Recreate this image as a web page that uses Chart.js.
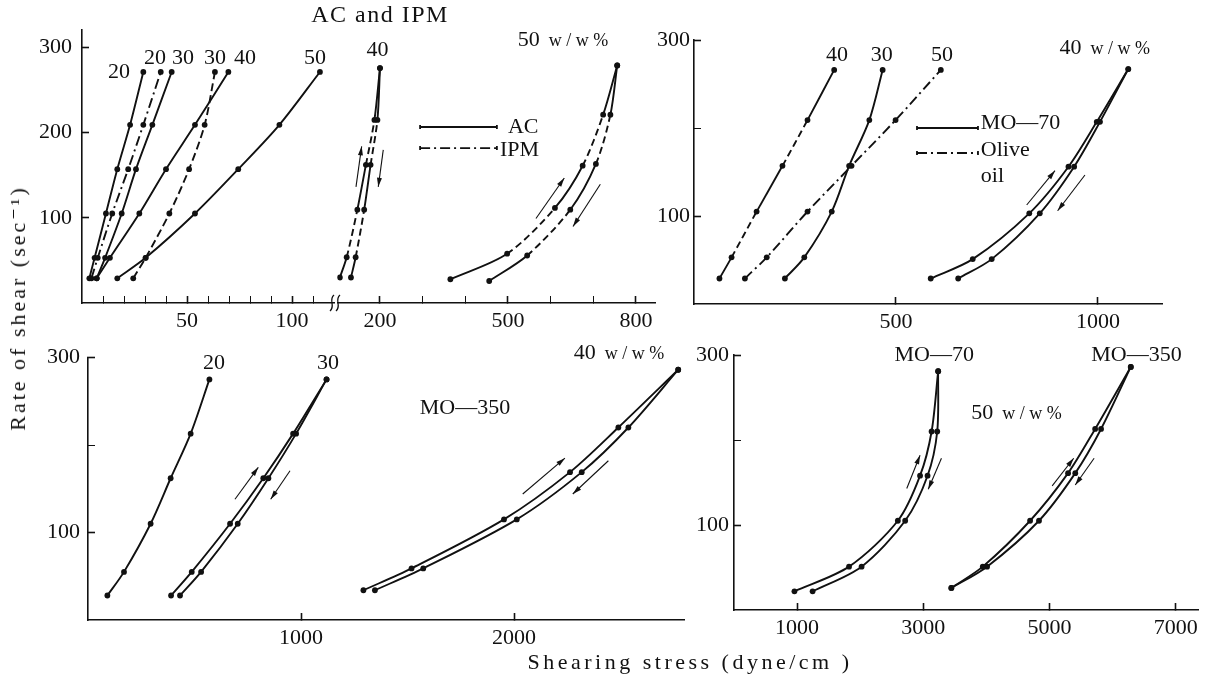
<!DOCTYPE html>
<html>
<head>
<meta charset="utf-8">
<script src="https://cdn.jsdelivr.net/npm/chart.js@4/dist/chart.umd.min.js"></script>
<style>
body { margin: 0; background: #fff; width: 1210px; height: 676px; position: relative; overflow: hidden;
       font-family: "Liberation Serif", "DejaVu Serif", serif; color: #111; }
canvas { position: absolute; left: 0; top: 0; }
.t { position: absolute; white-space: nowrap; font-size: 22px; transform: translate(-50%, -50%); }
</style>
</head>
<body>
<canvas id="tl1" width="1210" height="676"></canvas>
<canvas id="tl2" width="1210" height="676"></canvas>
<canvas id="tr" width="1210" height="676"></canvas>
<canvas id="bl" width="1210" height="676"></canvas>
<canvas id="br" width="1210" height="676"></canvas>
<div class="t" style="left:380px;top:14px;font-size:24px;letter-spacing:1.5px">AC and IPM</div>
<div class="t" style="left:690px;top:662px;letter-spacing:3.5px">Shearing stress (dyne/cm )</div>
<div class="t" style="left:18px;top:308px;letter-spacing:3px;transform:translate(-50%,-50%) rotate(-90deg)">Rate of shear (sec⁻¹)</div>
<script>
// ---- data: shearing stress (dyne/cm) vs rate of shear (sec-1)

// top left, AC and IPM
const rateTL = [29, 53, 105, 157, 209, 271];
const ac20 = [3.5, 6.0, 11.4, 16.8, 22.9, 29.2];
const ipm20 = [4.5, 7.5, 14.4, 22.0, 29.2, 37.5];
const ac30 = [7.0, 11.0, 18.9, 25.7, 33.5, 42.7];
const ipm30 = [24.4, 30.3, 41.6, 51.0, 58.4, 63.3];
const ac40 = [7.0, 13.3, 27.3, 40.0, 53.8, 69.7];
const ac50 = [16.8, 30.3, 53.8, 74.4, 94.0, 113.3];
const rateTL40 = [29, 52, 106, 157, 208, 267];
const mix40Up = [106, 122, 147, 167, 187, 200];
const mix40Down = [132, 143, 163, 178, 194, 200];
const rateTL50Up = [27, 56, 108, 156, 214, 270];
const rateTL50Down = [25, 54, 106, 158, 214, 270];
const mix50Up = [365, 498, 610, 675, 723, 756];
const mix50Down = [456, 545, 646, 706, 740, 756];

// top right, MO-70 and olive oil
const rateTR = [29, 53, 105, 157, 209, 266];
const olive40 = [63, 93, 155, 219, 281, 347];
const mo30 = [225, 273, 341, 384, 434, 467];
const olive50 = [126, 180, 281, 390, 499, 611];
const rateTR40 = [29, 51, 103, 156, 207, 267];
const mo40Up = [586, 690, 830, 927, 997, 1075];
const mo40Down = [654, 737, 856, 941, 1005, 1075];

// bottom left, MO-350
const rateBL = [28, 55, 110, 162, 213, 275];
const m350_20 = [91, 169, 294, 388, 482, 570];
const m350_30Up = [390, 487, 667, 823, 963, 1120];
const m350_30Down = [432, 531, 703, 847, 977, 1120];
const rateBL40 = [34, 59, 115, 169, 220, 286];
const m350_40Up = [1293, 1519, 1953, 2263, 2490, 2771];
const m350_40Down = [1347, 1574, 2013, 2318, 2537, 2771];

// bottom right, 50 w/w%
const rateBR70 = [22, 51, 105, 158, 210, 281];
const mo70Up = [958, 1823, 2597, 2949, 3132, 3236];
const mo70Down = [1246, 2022, 2713, 3068, 3221, 3236];
const rateBR350 = [26, 51, 105, 161, 213, 286];
const mo350Up = [3445, 3943, 4693, 5295, 5724, 6289];
const mo350Down = [3445, 4011, 4834, 5409, 5818, 6289];

// tick values
const yTicks = [100, 200, 300];
const xTicksTL1 = [10, 20, 30, 40, 50, 60, 70, 80, 90, 100, 110];
const xTicksTL2 = [200, 300, 400, 500, 600, 700, 800];
const xTicksTR = [500, 1000];
const xTicksBL = [1000, 2000];
const xTicksBR = [1000, 3000, 5000, 7000];

const W = 1210, H = 676;
const AXW = 60, AXH = 40;   // fixed room for tick labels
const ink = '#111';
const serif = '"Liberation Serif", "DejaVu Serif", serif';
const dashDot = [10, 4, 2, 4];
const alt = { segment: { borderDash: c => c.p0DataIndex % 2 ? [7, 4] : [] } };
const ww = '  w / w %';

Chart.defaults.font.family = serif;
Chart.defaults.font.size = 22;
Chart.defaults.color = ink;

function curve(xs, ys, style) {
    return Object.assign({
        data: xs.map((v, i) => ({ x: v, y: ys[i] })),
        borderColor: ink,
        backgroundColor: ink,
        borderWidth: 1.9,
        pointRadius: 2.9,
        pointBorderWidth: 0,
        pointBackgroundColor: ink,
        tension: 0.3,
        fill: false
    }, style || {});
}

// labels, arrows, legend and axis break
const decor = {
    id: 'decor',
    afterDraw(chart, args, opts) {
        const ctx = chart.ctx;
        const x = chart.scales.x, y = chart.scales.y;
        ctx.save();
        ctx.fillStyle = ink;
        ctx.strokeStyle = ink;
        ctx.textBaseline = 'middle';

        (opts.labels || []).forEach(l => {
            ctx.font = '22px ' + serif;
            const w1 = ctx.measureText(l.text).width;
            let w2 = 0;
            if (l.sub) { ctx.font = '18px ' + serif; w2 = ctx.measureText(l.sub).width; }
            let px = x.getPixelForValue(l.x) - (w1 + w2) / 2;
            const py = y.getPixelForValue(l.y);
            ctx.textAlign = 'left';
            ctx.font = '22px ' + serif;
            ctx.fillText(l.text, px, py);
            if (l.sub) { ctx.font = '18px ' + serif; ctx.fillText(l.sub, px + w1, py + 1); }
        });

        (opts.arrows || []).forEach(a => {
            const x0 = x.getPixelForValue(a[0]), y0 = y.getPixelForValue(a[1]);
            const x1 = x.getPixelForValue(a[2]), y1 = y.getPixelForValue(a[3]);
            const ang = Math.atan2(y1 - y0, x1 - x0);
            ctx.lineWidth = 1.1;
            ctx.setLineDash([]);
            ctx.beginPath(); ctx.moveTo(x0, y0); ctx.lineTo(x1, y1); ctx.stroke();
            ctx.beginPath();
            ctx.moveTo(x1, y1);
            ctx.lineTo(x1 - 9 * Math.cos(ang) + 2.5 * Math.sin(ang), y1 - 9 * Math.sin(ang) - 2.5 * Math.cos(ang));
            ctx.lineTo(x1 - 9 * Math.cos(ang) - 2.5 * Math.sin(ang), y1 - 9 * Math.sin(ang) + 2.5 * Math.cos(ang));
            ctx.closePath(); ctx.fill();
        });

        (opts.legend || []).forEach(g => {
            const x0 = x.getPixelForValue(g.x0), x1 = x.getPixelForValue(g.x1), py = y.getPixelForValue(g.y);
            ctx.lineWidth = 1.8;
            ctx.setLineDash(g.dash || []);
            ctx.beginPath(); ctx.moveTo(x0, py); ctx.lineTo(x1, py); ctx.stroke();
            ctx.setLineDash([]);
            ctx.beginPath(); ctx.moveTo(x0, py - 2); ctx.lineTo(x0, py + 2); ctx.moveTo(x1, py - 2); ctx.lineTo(x1, py + 2); ctx.stroke();
        });
        (opts.texts || []).forEach(t => {
            ctx.font = '22px ' + serif;
            ctx.textAlign = 'left';
            ctx.fillText(t.text, x.getPixelForValue(t.x), y.getPixelForValue(t.y));
        });

        if (opts.breakMark) {
            const bx = chart.chartArea.right + 1, by = chart.chartArea.bottom;
            ctx.lineWidth = 1.3;
            [-3, 3].forEach(d => {
                ctx.beginPath();
                ctx.moveTo(bx + d + 2, by - 8);
                ctx.bezierCurveTo(bx + d - 4, by - 3, bx + d + 4, by + 3, bx + d - 2, by + 8);
                ctx.stroke();
            });
        }
        ctx.restore();
    }
};
Chart.register(decor);

function axis(min, max, ticks, labels, pad, show) {
    return {
        type: 'linear',
        display: show !== false,
        min: min,
        max: max,
        afterBuildTicks: s => { s.ticks = ticks.map(v => ({ value: v })); },
        grid: {
            drawOnChartArea: false,
            tickLength: -7,
            tickColor: ink,
            tickWidth: c => labels.includes(c.tick && c.tick.value) ? 1.6 : 1
        },
        border: { color: ink, width: 1.6 },
        ticks: {
            padding: pad,
            autoSkip: false,
            maxRotation: 0,
            callback: v => labels.includes(v) ? String(v) : ''
        }
    };
}

function panel(id, area, xAxis, yAxis, datasets, decorOpts) {
    const yw = yAxis.display ? AXW : 0;
    xAxis.afterFit = s => { s.height = AXH; };
    yAxis.afterFit = s => { s.width = yw; };
    return new Chart(document.getElementById(id), {
        type: 'line',
        data: { datasets: datasets },
        options: {
            responsive: false,
            animation: false,
            devicePixelRatio: 1,
            layout: { padding: { left: area[0] - yw, top: area[1], right: W - area[2], bottom: H - area[3] - AXH } },
            plugins: { legend: { display: false }, tooltip: { enabled: false }, decor: decorOpts },
            scales: { x: xAxis, y: yAxis }
        }
    });
}

// top left, first x segment
panel('tl1', [82, 21.4, 334, 303],
    axis(0, 120, xTicksTL1, [50, 100], 12),
    axis(0, 320, yTicks, [100, 200, 300], 17),
    [
        curve(ac20, rateTL),
        curve(ipm20, rateTL, { borderDash: dashDot }),
        curve(ac30, rateTL),
        curve(ipm30, rateTL, { borderDash: [8, 4] }),
        curve(ac40, rateTL),
        curve(ac50, rateTL)
    ],
    {
        breakMark: true,
        labels: [
            { x: 17.6, y: 270.5, text: '20' }, { x: 34.8, y: 287.5, text: '20' },
            { x: 48.1, y: 287.5, text: '30' }, { x: 63.3, y: 287.5, text: '30' },
            { x: 77.6, y: 287.5, text: '40' }, { x: 111, y: 287.5, text: '50' }
        ]
    });

// top left, second x segment
panel('tl2', [337.3, 21.4, 655.2, 303],
    axis(100, 845, xTicksTL2, [200, 500, 800], 12),
    axis(0, 320, yTicks, [], 17, false),
    [
        curve(mix40Up, rateTL40, alt),
        curve(mix40Down, rateTL40, alt),
        curve(mix50Up, rateTL50Up, alt),
        curve(mix50Down, rateTL50Down, alt)
    ],
    {
        labels: [{ x: 194, y: 287.5, text: '40' }, { x: 629, y: 299, text: '50', sub: ww }],
        arrows: [[143.8, 132, 157.1, 178], [207.7, 174, 196, 132], [565.6, 96, 632, 142], [716.4, 135, 652.4, 87]],
        legend: [{ x0: 294, x1: 474, y: 200 }, { x0: 294, x1: 474, y: 176, dash: dashDot }],
        texts: [{ x: 500, y: 200, text: 'AC' }, { x: 481, y: 174, text: 'IPM' }]
    });

// top right
panel('tr', [694, 40, 1162.6, 304],
    axis(0, 1160, xTicksTR, [500, 1000], 12),
    axis(0, 300, yTicks, [100, 300], 11),
    [
        curve(olive40, rateTR, alt),
        curve(mo30, rateTR),
        curve(olive50, rateTR, { borderDash: dashDot }),
        curve(mo40Up, rateTR40),
        curve(mo40Down, rateTR40)
    ],
    {
        labels: [
            { x: 354, y: 283, text: '40' }, { x: 465, y: 283, text: '30' },
            { x: 614, y: 283, text: '50' }, { x: 1017, y: 291, text: '40', sub: ww }
        ],
        arrows: [[823.5, 112.5, 893.6, 151.5], [967.8, 146.6, 900.2, 106]],
        legend: [{ x0: 552, x1: 703, y: 200 }, { x0: 552, x1: 703, y: 171.6, dash: dashDot }],
        texts: [{ x: 710, y: 206, text: 'MO—70' }, { x: 710, y: 175, text: 'Olive' }, { x: 710, y: 145.5, text: 'oil' }]
    });

// bottom left
panel('bl', [88, 357.5, 684.4, 620],
    axis(0, 2800, xTicksBL, [1000, 2000], 12),
    axis(0, 300, yTicks, [100, 300], 15),
    [
        curve(m350_20, rateBL),
        curve(m350_30Up, rateBL),
        curve(m350_30Down, rateBL),
        curve(m350_40Up, rateBL40),
        curve(m350_40Down, rateBL40)
    ],
    {
        labels: [
            { x: 591.5, y: 293.7, text: '20' }, { x: 1127, y: 293.7, text: '30' },
            { x: 1770, y: 242, text: 'MO—350' }, { x: 2493, y: 305, text: '40', sub: ww }
        ],
        arrows: [[690, 138, 799.5, 174.5], [948.4, 170.6, 857.7, 138], [2041, 144, 2239, 185], [2443, 182, 2276, 144]]
    });

// bottom right
panel('br', [734, 355, 1203, 610],
    axis(0, 7370, xTicksBR, xTicksBR, 12),
    axis(0, 300, yTicks, [100, 300], 12),
    [
        curve(mo70Up, rateBR70),
        curve(mo70Down, rateBR70),
        curve(mo350Up, rateBR350),
        curve(mo350Down, rateBR350)
    ],
    {
        labels: [
            { x: 3174, y: 300, text: 'MO—70' }, { x: 6379, y: 300, text: 'MO—350' },
            { x: 4478, y: 231.7, text: '50', sub: ww }
        ],
        arrows: [[2738, 143, 2949, 182], [3288, 178.5, 3079, 142], [5043, 146, 5384, 178.5], [5708, 178.5, 5409, 147]]
    });
</script>
</body>
</html>
